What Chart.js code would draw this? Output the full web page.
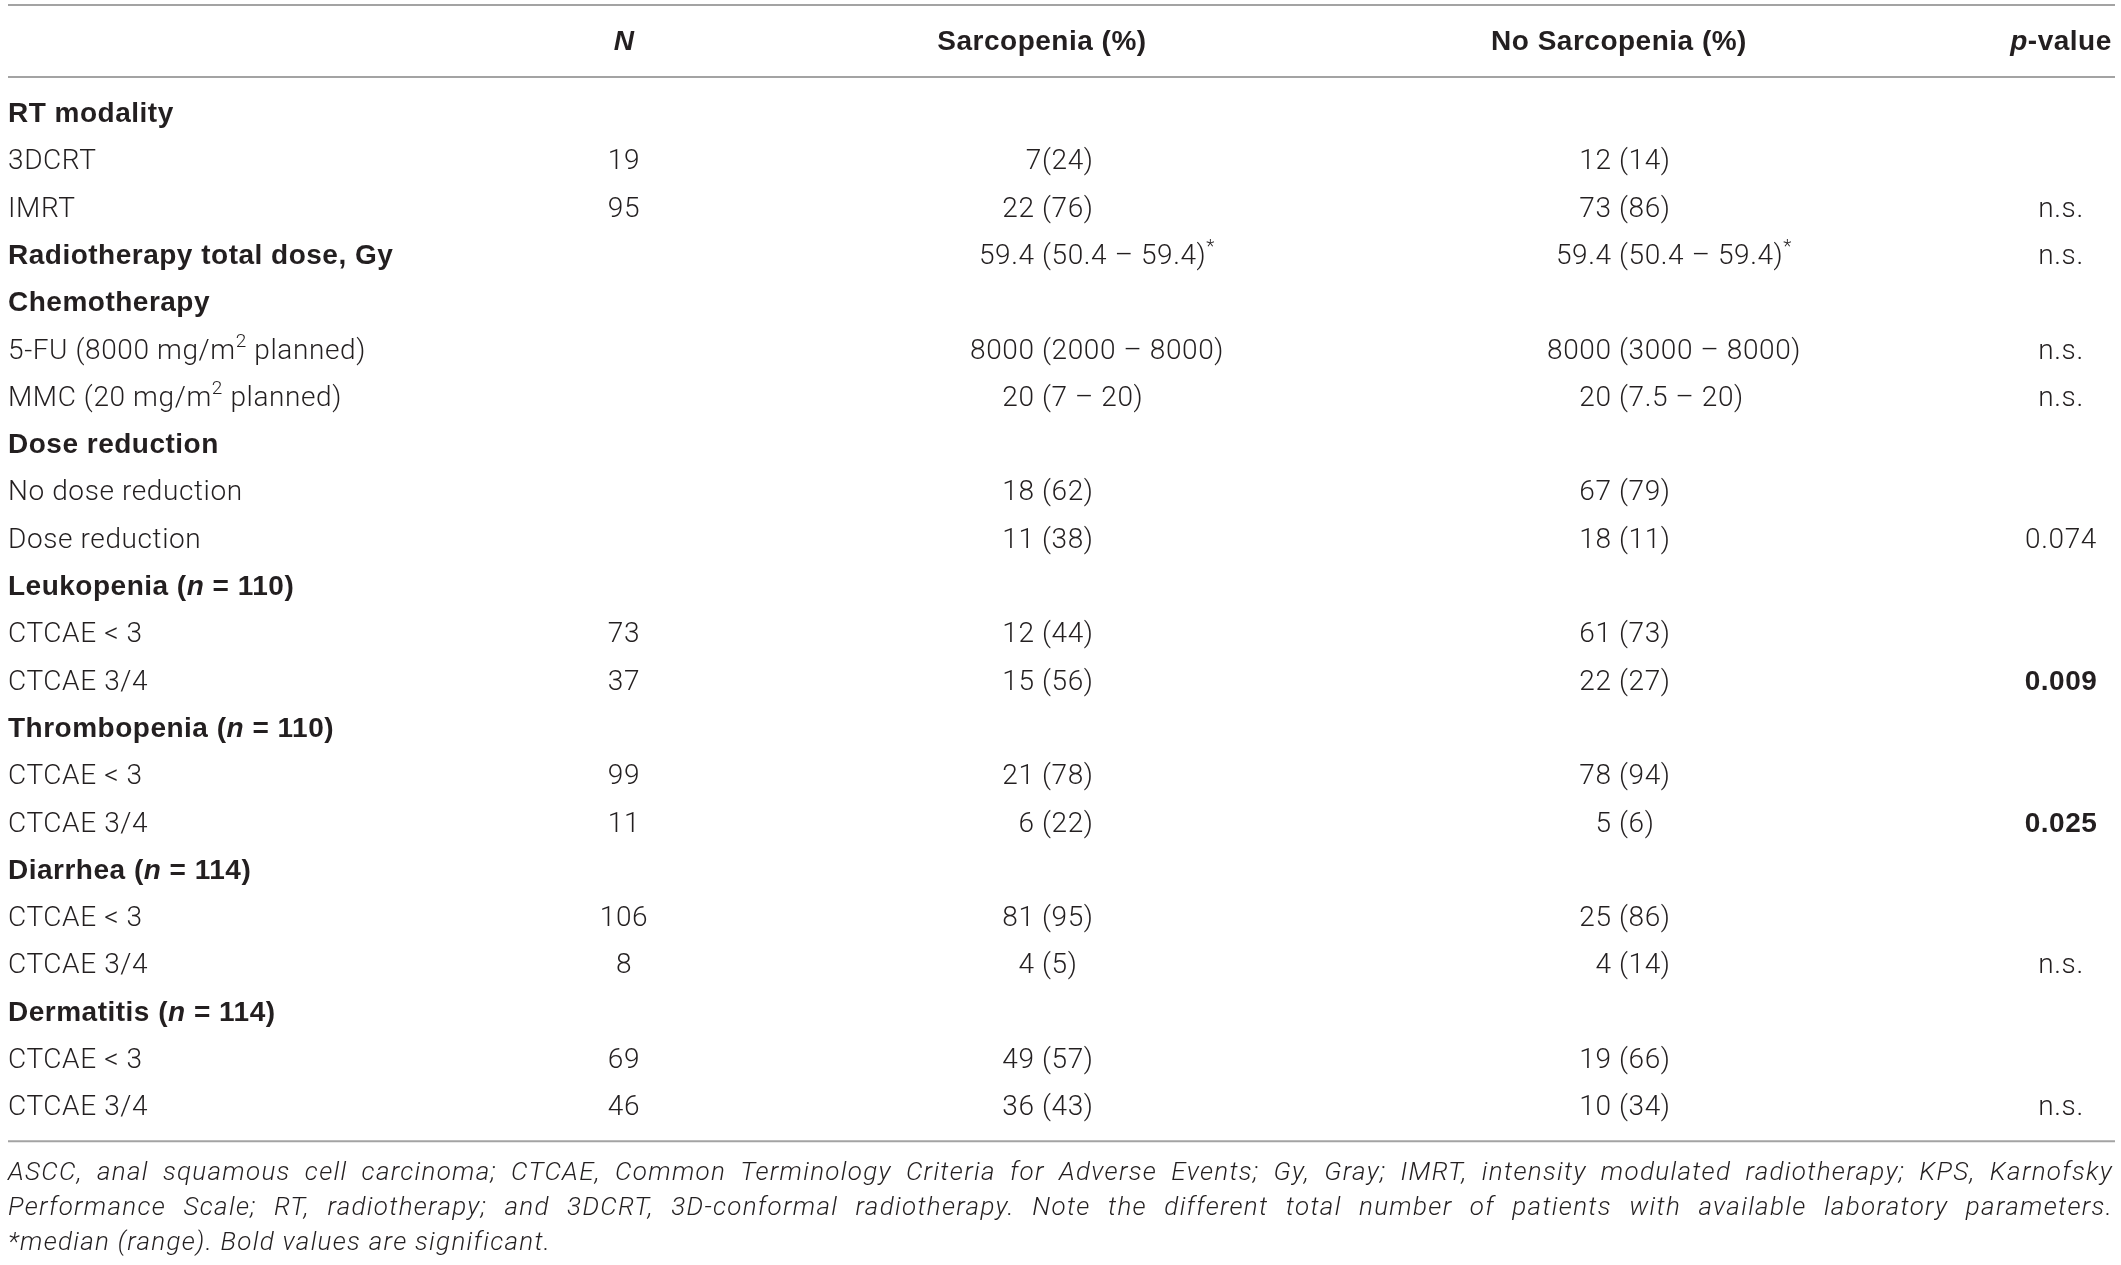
<!DOCTYPE html>
<html>
<head>
<meta charset="utf-8">
<script src="https://cdn.jsdelivr.net/npm/chart.js@4.4.1/dist/chart.umd.min.js"></script>
<style>
  html, body { margin: 0; padding: 0; background: #fff; }
  canvas { display: block; }
</style>
</head>
<body>
<canvas id="tbl" width="2121" height="1265"></canvas>
<script>
// table content, one array per column
// markup: _x_ = italic, ^c = superscript char
var rowLabels = ["RT modality", "3DCRT", "IMRT", "Radiotherapy total dose, Gy", "Chemotherapy",
    "5-FU (8000 mg/m^2 planned)", "MMC (20 mg/m^2 planned)", "Dose reduction", "No dose reduction",
    "Dose reduction", "Leukopenia (_n_ = 110)", "CTCAE < 3", "CTCAE 3/4", "Thrombopenia (_n_ = 110)",
    "CTCAE < 3", "CTCAE 3/4", "Diarrhea (_n_ = 114)", "CTCAE < 3", "CTCAE 3/4",
    "Dermatitis (_n_ = 114)", "CTCAE < 3", "CTCAE 3/4"];
var sectionRows = [0, 3, 4, 7, 10, 13, 16, 19];
var nValues = ["", "19", "95", "", "", "", "", "", "", "", "", "73", "37", "", "99", "11", "", "106", "8", "", "69", "46"];
var sarcopenia = ["", "7(24)", "22 (76)", "59.4 (50.4 – 59.4)^*", "", "8000 (2000 – 8000)", "20 (7 – 20)", "",
    "18 (62)", "11 (38)", "", "12 (44)", "15 (56)", "", "21 (78)", "6 (22)", "", "81 (95)", "4 (5)", "", "49 (57)", "36 (43)"];
var noSarcopenia = ["", "12 (14)", "73 (86)", "59.4 (50.4 – 59.4)^*", "", "8000 (3000 – 8000)", "20 (7.5 – 20)", "",
    "67 (79)", "18 (11)", "", "61 (73)", "22 (27)", "", "78 (94)", "5 (6)", "", "25 (86)", "4 (14)", "", "19 (66)", "10 (34)"];
var pValues = ["", "", "n.s.", "n.s.", "", "n.s.", "n.s.", "", "", "0.074", "", "", "0.009", "", "", "0.025",
    "", "", "n.s.", "", "", "n.s."];
var columnHeaders = ["", "_N_", "Sarcopenia (%)", "No Sarcopenia (%)", "_p_-value"];
var footnoteLines = [
    "ASCC, anal squamous cell carcinoma; CTCAE, Common Terminology Criteria for Adverse Events; Gy, Gray; IMRT, intensity modulated radiotherapy; KPS, Karnofsky",
    "Performance Scale; RT, radiotherapy; and 3DCRT, 3D-conformal radiotherapy. Note the different total number of patients with available laboratory parameters.",
    "*median (range). Bold values are significant."
];

// layout / styles
var INK = "#231f20";
var RULE = "#a3a3a3";
var BODY = { family: "Roboto, 'Liberation Sans', sans-serif", weight: 300, size: 28, spacing: 0.6 };
var BOLD = { family: "'Liberation Sans', Arial, sans-serif", weight: 700, size: 28, spacing: 0.5 };
var NOTE = { family: "Roboto, 'Liberation Sans', sans-serif", weight: 300, size: 26, spacing: 1.3 };
var colX = [8, 624, 1042, 1619, 2061];   // column anchors (px)
var HEADER_ROW = -1.52;

var columns = [rowLabels, nValues, sarcopenia, noSarcopenia, pValues];

function isSignificant(p) {
    var v = parseFloat(p);
    return !isNaN(v) && v < 0.05;
}

function segs(s) {
    var out = [], it = false, buf = "";
    for (var i = 0; i < s.length; i++) {
        var ch = s[i];
        if (ch === "_") {
            if (buf) out.push({ t: buf, it: it, sup: false });
            buf = ""; it = !it;
        } else if (ch === "^") {
            if (buf) out.push({ t: buf, it: it, sup: false });
            buf = "";
            out.push({ t: s[++i], it: it, sup: true });
        } else buf += ch;
    }
    if (buf) out.push({ t: buf, it: it, sup: false });
    return out;
}

function setFont(ctx, st, italic, sup) {
    ctx.font = (italic ? "italic " : "") + st.weight + " " + (sup ? Math.round(st.size * 0.68) : st.size) + "px " + st.family;
    ctx.letterSpacing = st.spacing + "px";
}

function drawRich(ctx, s, x, y, align, st) {
    var parts = segs(s), w = 0;
    parts.forEach(function (p) {
        setFont(ctx, st, p.it, p.sup);
        p.w = ctx.measureText(p.t).width;
        w += p.w;
    });
    var cx = align === "left" ? x : align === "right" ? x - w : x - w / 2;
    parts.forEach(function (p) {
        setFont(ctx, st, p.it, p.sup);
        ctx.fillText(p.t, cx, p.sup ? y - st.size * 0.42 : y);
        cx += p.w;
    });
}

function drawJustified(ctx, line, x0, x1, y) {
    var words = line.split(" ");
    var total = 0;
    words.forEach(function (w) { total += ctx.measureText(w).width; });
    var gap = (x1 - x0 - total) / (words.length - 1);
    var x = x0;
    words.forEach(function (w) {
        ctx.fillText(w, x, y);
        x += ctx.measureText(w).width + gap;
    });
}

var tablePlugin = {
    id: "tableText",
    afterDatasetsDraw: function (chart) {
        var ctx = chart.ctx, xs = chart.scales.x, ys = chart.scales.y;
        var base = 9;
        ctx.save();
        ctx.textAlign = "left";
        ctx.textBaseline = "alphabetic";
        ctx.fillStyle = INK;

        // rules
        var hy = ys.getPixelForValue(HEADER_ROW);
        var lastY = ys.getPixelForValue(rowLabels.length - 1);
        var left = xs.getPixelForValue(colX[0]), right = xs.getPixelForValue(2115);
        ctx.strokeStyle = RULE;
        ctx.lineWidth = 2;
        [hy - 36, hy + 36, lastY + 35].forEach(function (ry) {
            ctx.beginPath();
            ctx.moveTo(left, ry);
            ctx.lineTo(right, ry);
            ctx.stroke();
        });

        // header row
        columnHeaders.forEach(function (h, c) {
            if (!h) return;
            drawRich(ctx, h, xs.getPixelForValue(colX[c]), hy + base, "center", BOLD);
        });

        // body cells
        chart.data.datasets.forEach(function (ds, c) {
            var meta = chart.getDatasetMeta(c);
            meta.data.forEach(function (pt, i) {
                var txt = ds.data[i].text;
                if (!txt) return;
                var y = pt.y + base;
                if (c === 0) {
                    drawRich(ctx, txt, pt.x, y, "left", sectionRows.indexOf(i) >= 0 ? BOLD : BODY);
                } else if (c === 2 || c === 3) {
                    // line the values up on the opening bracket
                    var k = txt.indexOf("(");
                    drawRich(ctx, txt.slice(0, k), pt.x, y, "right", BODY);
                    drawRich(ctx, txt.slice(k), pt.x, y, "left", BODY);
                } else {
                    var bold = c === 4 && isSignificant(txt);
                    drawRich(ctx, txt, pt.x, y, "center", bold ? BOLD : BODY);
                }
            });
        });

        // footnote
        setFont(ctx, NOTE, true, false);
        footnoteLines.forEach(function (line, i) {
            var fy = lastY + 74 + i * 35;
            if (i < footnoteLines.length - 1) drawJustified(ctx, line, left, right - 2, fy);
            else ctx.fillText(line, left, fy);
        });
        ctx.restore();
    }
};

var datasets = columns.map(function (col, c) {
    return {
        label: columnHeaders[c],
        data: col.map(function (v, i) { return { x: colX[c], y: i, text: v }; }),
        pointRadius: 0,
        pointHoverRadius: 0,
        showLine: false
    };
});

var chart = new Chart(document.getElementById("tbl"), {
    type: "scatter",
    data: { datasets: datasets },
    options: {
        responsive: false,
        animation: false,
        devicePixelRatio: 1,
        events: [],
        layout: { padding: 0 },
        plugins: { legend: { display: false }, tooltip: { enabled: false } },
        scales: {
            x: { type: "linear", display: false, min: 0, max: 2121 },
            y: { type: "linear", display: false, reverse: true, min: -2.389, max: 24.355 }
        }
    },
    plugins: [tablePlugin]
});
</script>
</body>
</html>
